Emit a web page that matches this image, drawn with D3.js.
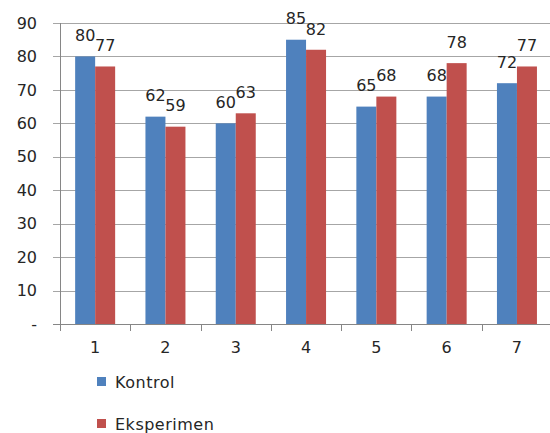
<!DOCTYPE html>
<html>
<head>
<meta charset="utf-8">
<script src="https://cdn.jsdelivr.net/npm/d3@7"></script>
<style>
  html, body { margin: 0; padding: 0; background: #fff; }
  svg { display: block; font-family: "DejaVu Sans", sans-serif; }
</style>
</head>
<body>
<svg id="chart" width="550" height="433"></svg>
<script>
// Scores per group
const categories = ["1", "2", "3", "4", "5", "6", "7"];
const seriesNames = ["Kontrol", "Eksperimen"];
const kontrol = [80, 62, 60, 85, 65, 68, 72];
const eksperimen = [77, 59, 63, 82, 68, 78, 77];
const yTicks = [0, 10, 20, 30, 40, 50, 60, 70, 80, 90];
const colors = ["#4F81BD", "#C0504D"];

const seriesValues = [kontrol, eksperimen];
const rows = categories.map((c, i) => ({
  cat: c,
  vals: seriesNames.map((s, k) => ({ key: s, value: seriesValues[k][i] }))
}));

const svg = d3.select("#chart");

const plotLeft = 60, plotTop = 23, plotBottom = 324;
const bandW = 70.3;

const x = d3.scaleBand()
  .domain(categories)
  .range([plotLeft, plotLeft + bandW * categories.length])
  .paddingInner(0).paddingOuter(0);

const x1 = d3.scaleBand()
  .domain(seriesNames)
  .range([x.bandwidth() / 2 - 20, x.bandwidth() / 2 + 20])
  .padding(0);

const y = d3.scaleLinear().domain([0, 90]).range([plotBottom, plotTop]);

// Horizontal gridlines with short outer tick marks
svg.append("g")
  .selectAll("line")
  .data(yTicks.filter(d => d > 0))
  .join("line")
  .attr("x1", plotLeft - 7).attr("x2", 550)
  .attr("y1", d => Math.round(y(d)) + 0.5).attr("y2", d => Math.round(y(d)) + 0.5)
  .attr("stroke", "#a6a6a6").attr("stroke-width", 1);

// Y axis labels
const yAxis = d3.axisLeft(y)
  .tickValues(yTicks)
  .tickFormat(d => d === 0 ? "-" : d3.format("d")(d))
  .tickSize(0)
  .tickPadding(0);

const gy = svg.append("g")
  .attr("transform", `translate(${plotLeft - 23},0)`)
  .call(yAxis);
gy.select(".domain").remove();
gy.selectAll("text")
  .attr("font-size", 16)
  .attr("fill", "#262626")
  .attr("font-family", "DejaVu Sans, sans-serif");

// Bars
const groups = svg.append("g")
  .selectAll("g")
  .data(rows)
  .join("g")
  .attr("transform", d => `translate(${x(d.cat)},0)`);

groups.selectAll("rect")
  .data(d => d.vals)
  .join("rect")
  .attr("x", d => x1(d.key))
  .attr("width", x1.bandwidth())
  .attr("y", d => y(d.value))
  .attr("height", d => y(0) - y(d.value))
  .attr("fill", (d, i) => colors[i]);

// Value labels above bars
groups.selectAll("text")
  .data(d => d.vals)
  .join("text")
  .attr("x", d => x1(d.key) + x1.bandwidth() / 2)
  .attr("y", d => y(d.value) - 21)
  .attr("dy", "0.36em")
  .attr("text-anchor", "middle")
  .attr("font-size", 16)
  .attr("fill", "#262626")
  .text(d => d.value);

// Axes lines
svg.append("line")
  .attr("x1", plotLeft + 0.5).attr("x2", plotLeft + 0.5)
  .attr("y1", plotTop).attr("y2", plotBottom + 7)
  .attr("stroke", "#868686");

const xAxis = d3.axisBottom(x).tickSize(0).tickPadding(17);
const gx = svg.append("g")
  .attr("transform", `translate(0,${plotBottom + 0.5})`)
  .call(xAxis);
gx.select(".domain").attr("stroke", "#868686").attr("d", `M${plotLeft - 7},0H550`);
gx.selectAll("text")
  .attr("font-size", 16)
  .attr("fill", "#262626")
  .attr("font-family", "DejaVu Sans, sans-serif");

// Category boundary tick marks
svg.append("g")
  .selectAll("line")
  .data(categories)
  .join("line")
  .attr("x1", d => Math.round(x(d)) + 0.5).attr("x2", d => Math.round(x(d)) + 0.5)
  .attr("y1", plotBottom).attr("y2", plotBottom + 7)
  .attr("stroke", "#868686");

// Legend
const legend = svg.append("g")
  .selectAll("g")
  .data(seriesNames)
  .join("g")
  .attr("transform", (d, i) => `translate(97,${377 + i * 42})`);

legend.append("rect")
  .attr("width", 9).attr("height", 9)
  .attr("fill", (d, i) => colors[i]);

legend.append("text")
  .attr("x", 18).attr("y", 11)
  .attr("font-size", 16)
  .attr("fill", "#262626")
  .attr("letter-spacing", 0.5)
  .text(d => d);
</script>
</body>
</html>
